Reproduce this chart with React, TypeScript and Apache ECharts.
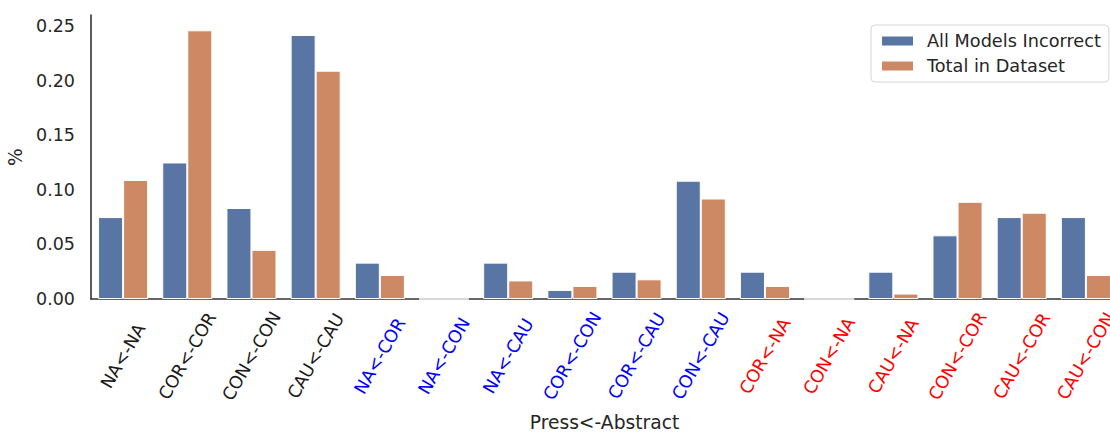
import React, { useEffect, useRef } from "react";
import * as echarts from "echarts";

const categories = [
  "NA<-NA", "COR<-COR", "CON<-CON", "CAU<-CAU",
  "NA<-COR", "NA<-CON", "NA<-CAU", "COR<-CON", "COR<-CAU", "CON<-CAU",
  "COR<-NA", "CON<-NA", "CAU<-NA", "CON<-COR", "CAU<-COR", "CAU<-CON",
];
const labelColors = [
  "#1a1a1a", "#1a1a1a", "#1a1a1a", "#1a1a1a",
  "#0000ff", "#0000ff", "#0000ff", "#0000ff", "#0000ff", "#0000ff",
  "#ff0000", "#ff0000", "#ff0000", "#ff0000", "#ff0000", "#ff0000",
];
const allModelsIncorrect = [
  0.075, 0.125, 0.0833, 0.2417,
  0.0333, 0, 0.0333, 0.0083, 0.025, 0.1083,
  0.025, 0, 0.025, 0.0583, 0.075, 0.075,
];
const totalInDataset = [
  0.109, 0.246, 0.045, 0.209,
  0.022, 0, 0.017, 0.012, 0.018, 0.092,
  0.012, 0, 0.005, 0.089, 0.079, 0.022,
];
const seriesNames = ["All Models Incorrect", "Total in Dataset"];

const FONT = "DejaVu Sans";

export default function App() {
  const ref = useRef<HTMLDivElement>(null);
  useEffect(() => {
    if (!ref.current) return;
    const chart = echarts.init(ref.current, undefined, { renderer: "svg" });
    chart.setOption({
      animation: false,
      textStyle: { fontFamily: FONT },
      legend: {
        orient: "vertical",
        left: 871,
        top: 25,
        padding: [7, 8, 7, 9],
        itemGap: 7,
        itemWidth: 33,
        itemHeight: 11,
        icon: "rect",
        borderColor: "#d6d6d6",
        borderWidth: 1,
        borderRadius: 4,
        backgroundColor: "#fff",
        textStyle: { fontFamily: FONT, fontSize: 17.7, color: "#262626", padding: [0, 0, 0, 8] },
        data: seriesNames,
      },
      grid: { left: 91, right: 0, top: 15, bottom: 133, containLabel: false, outerBoundsMode: "none" },
      xAxis: {
        type: "category",
        data: categories.map((c, i) => ({
          value: c,
          textStyle: { color: labelColors[i], align: "center", verticalAlign: "middle" },
        })),
        name: "Press<-Abstract",
        nameLocation: "middle",
        nameGap: 114,
        nameMoveOverlap: false,
        nameTextStyle: { fontFamily: FONT, fontSize: 18.7, color: "#262626" },
        axisLine: { lineStyle: { color: "#333", width: 1.6 } },
        axisTick: { show: false },
        axisLabel: {
          interval: 0,
          rotate: 60,
          align: "center",
          verticalAlign: "middle",
          margin: 57,
          fontFamily: FONT,
          fontSize: 17.5,
        },
      },
      yAxis: {
        type: "value",
        min: 0,
        max: 0.26,
        interval: 0.05,
        name: "%",
        nameLocation: "middle",
        nameGap: 66,
        nameMoveOverlap: false,
        nameTextStyle: { fontFamily: FONT, fontSize: 18.7, color: "#262626" },
        axisLine: { show: true, lineStyle: { color: "#333", width: 1.6 } },
        axisTick: { show: false },
        splitLine: { show: false },
        axisLabel: {
          fontFamily: FONT,
          fontSize: 17.5,
          color: "#262626",
          margin: 16,
          formatter: (v: number) =>
            Math.abs(v / 0.05 - Math.round(v / 0.05)) < 1e-6 ? v.toFixed(2) : "",
        },
      },
      series: [
        {
          name: seriesNames[0],
          type: "bar",
          data: allModelsIncorrect,
          barGap: "0%",
          barCategoryGap: "22%",
          itemStyle: { color: "#5875a4", borderColor: "#fff", borderWidth: 1 },
        },
        {
          name: seriesNames[1],
          type: "bar",
          data: totalInDataset,
          barGap: "0%",
          barCategoryGap: "22%",
          itemStyle: { color: "#cc8963", borderColor: "#fff", borderWidth: 1 },
        },
      ],
    });
    return () => chart.dispose();
  }, []);
  return (
    <div style={{ position: "absolute", left: 0, top: 0, width: 1110, height: 432, overflow: "hidden", background: "#fff" }}>
      <div ref={ref} style={{ width: 1118, height: 432 }} />
    </div>
  );
}
